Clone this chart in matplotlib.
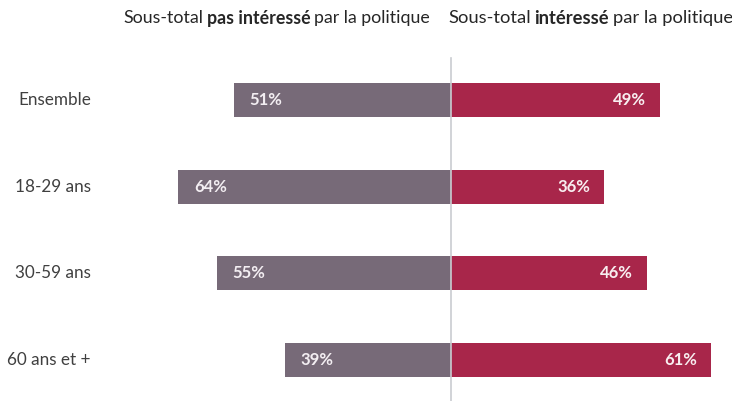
import matplotlib
matplotlib.use("Agg")
import matplotlib.pyplot as plt

categories = ["Ensemble", "18-29 ans", "30-59 ans", "60 ans et +"]
pas_interesse = [51, 64, 55, 39]
interesse = [49, 36, 46, 61]

plt.rcParams["font.family"] = ["Lato", "DejaVu Sans"]

W, H, DPI = 732, 401, 100
fig = plt.figure(figsize=(W / DPI, H / DPI), dpi=DPI)
ax = fig.add_axes([0, 0, 1, 1])

px_per_unit = 4.26
center_px = 451
row0_px, row_step = 100, 86.67
ax.set_xlim(-center_px / px_per_unit, (W - center_px) / px_per_unit)
ax.set_ylim((H - row0_px) / row_step, -row0_px / row_step)
ax.axis("off")

grey = "#776a78"
red = "#a8264a"
ys = list(range(len(categories)))
h = 34 / row_step

ax.barh(ys, [-v for v in pas_interesse], height=h, color=grey, zorder=2)
ax.barh(ys, interesse, height=h, color=red, zorder=2)
ax.plot([0, 0], [(58 - row0_px) / row_step, (H - row0_px) / row_step],
        color="#c9ccd1", lw=1.2, zorder=3)

pad_l = 16 / px_per_unit
pad_r = 14 / px_per_unit
for y, a, b, cat in zip(ys, pas_interesse, interesse, categories):
    ax.text(-a + pad_l, y, f"{a}%", ha="left", va="center", color="#f3eef2",
            fontsize=12, fontweight="bold", zorder=4)
    ax.text(b - pad_r, y, f"{b}%", ha="right", va="center", color="#f8eef0",
            fontsize=12, fontweight="bold", zorder=4)
    ax.text((91 - center_px) / px_per_unit, y, cat, ha="right", va="center",
            color="#404040", fontsize=12.3)

# Column headers with a bold keyword in the middle
renderer = fig.canvas.get_renderer()
header_y = 0.955


def header(parts, x_center, size):
    texts = []
    for s, w in parts:
        t = fig.text(0, header_y, s, ha="left", va="center", fontsize=size,
                     fontweight=w, color="#262626")
        texts.append(t)
    widths = [t.get_window_extent(renderer).width / W for t in texts]
    space = 0.005
    total = sum(widths) + space * (len(parts) - 1)
    x = x_center - total / 2
    for t, wd in zip(texts, widths):
        t.set_x(x)
        x += wd + space


header([("Sous-total", "normal"), ("pas intéressé", "bold"),
        ("par la politique", "normal")], 276.5 / W, 12.8)
header([("Sous-total", "normal"), ("intéressé", "bold"),
        ("par la politique", "normal")], 590.5 / W, 13.2)

fig.savefig("out.png", dpi=DPI)
